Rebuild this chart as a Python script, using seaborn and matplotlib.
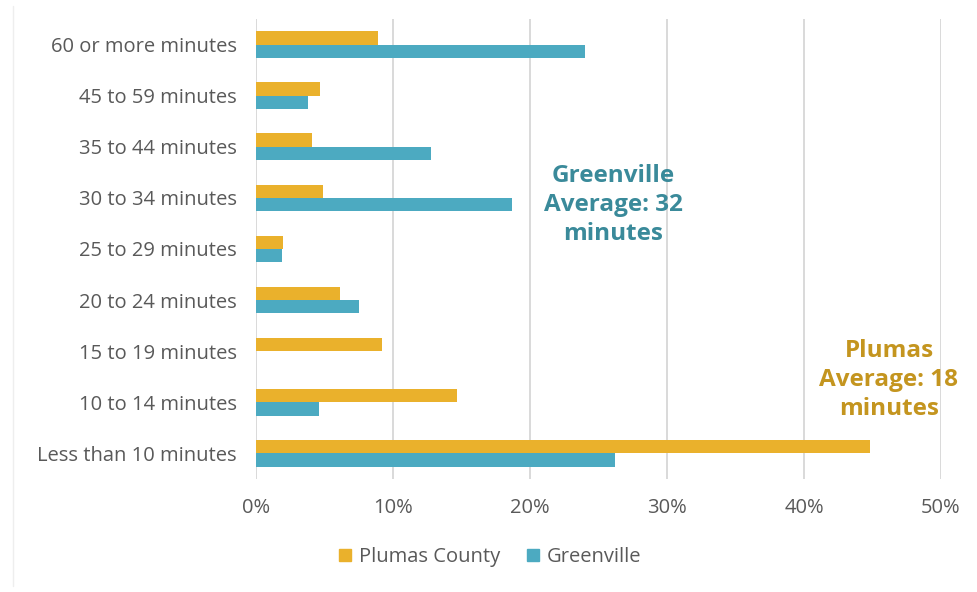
import matplotlib
matplotlib.use("Agg")
import matplotlib.pyplot as plt
from matplotlib.lines import Line2D
from matplotlib.ticker import FuncFormatter
import seaborn as sns
import pandas as pd

# Commute time categories, longest first (top of the chart)
categories = [
    "60 or more minutes",
    "45 to 59 minutes",
    "35 to 44 minutes",
    "30 to 34 minutes",
    "25 to 29 minutes",
    "20 to 24 minutes",
    "15 to 19 minutes",
    "10 to 14 minutes",
    "Less than 10 minutes",
]
plumas = [8.9, 4.7, 4.1, 4.9, 2.0, 6.1, 9.2, 14.7, 44.8]
greenville = [24.0, 3.8, 12.8, 18.7, 1.9, 7.5, 0.0, 4.6, 26.2]
series_names = ["Plumas County", "Greenville"]
x_ticks = [0, 10, 20, 30, 40, 50]

colors = {"Plumas County": "#EAB12C", "Greenville": "#4CAAC1"}
text_gray = "#595959"

df = pd.DataFrame({
    "category": categories * 2,
    "share": plumas + greenville,
    "area": [series_names[0]] * len(categories) + [series_names[1]] * len(categories),
})

sns.set_theme(style="white")
plt.rcParams["font.family"] = ["Open Sans", "DejaVu Sans"]

fig = plt.figure(figsize=(9.78, 5.92), dpi=100)
ax = fig.add_axes([256 / 978, 1 - 479 / 592, (941 - 256) / 978, (479 - 19) / 592])

sns.barplot(
    data=df, x="share", y="category", hue="area", order=categories,
    hue_order=series_names, palette=colors, orient="h", width=0.52,
    saturation=1, legend=False, linewidth=0, ax=ax,
)

ax.set_xlim(0, 50)
ax.set_ylim(len(categories) - 0.5, -0.5)
ax.set_xticks(x_ticks)
ax.xaxis.set_major_formatter(FuncFormatter(lambda v, p: f"{v:.0f}%"))
ax.set_xlabel("")
ax.set_ylabel("")
ax.grid(axis="x", color="#D9D9D9", linewidth=1.4)
ax.set_axisbelow(True)
for s in ax.spines.values():
    s.set_visible(False)
ax.tick_params(axis="y", length=0, pad=14, labelsize=14.5, labelcolor=text_gray)
ax.tick_params(axis="x", length=0, pad=14, labelsize=14.5, labelcolor=text_gray)

# Average commute callouts
ax.text(613 / 978, 1 - 205 / 592, "Greenville\nAverage: 32\nminutes",
        transform=fig.transFigure, ha="center", va="center",
        fontsize=17.5, fontweight="bold", color="#3A8A9A", linespacing=1.3)
ax.text(889 / 978, 1 - 380 / 592, "Plumas\nAverage: 18\nminutes",
        transform=fig.transFigure, ha="center", va="center",
        fontsize=17.5, fontweight="bold", color="#C4951F", linespacing=1.3)

handles = [Line2D([0], [0], marker="s", linestyle="none", markersize=9,
                  markerfacecolor=colors[n], markeredgecolor=colors[n]) for n in series_names]
fig.legend(handles, series_names, loc="center", bbox_to_anchor=(0.5, 1 - 557 / 592),
           ncol=2, frameon=False, fontsize=14.5, labelcolor=text_gray,
           handlelength=0.8, handletextpad=0.3, columnspacing=1.2)

# faint chart-area frame on the left edge
fig.add_artist(Line2D([13 / 978, 13 / 978], [0.01, 0.99], transform=fig.transFigure,
                      color="#EEEEEE", linewidth=1))

fig.savefig("out.png", dpi=100, facecolor="white")
